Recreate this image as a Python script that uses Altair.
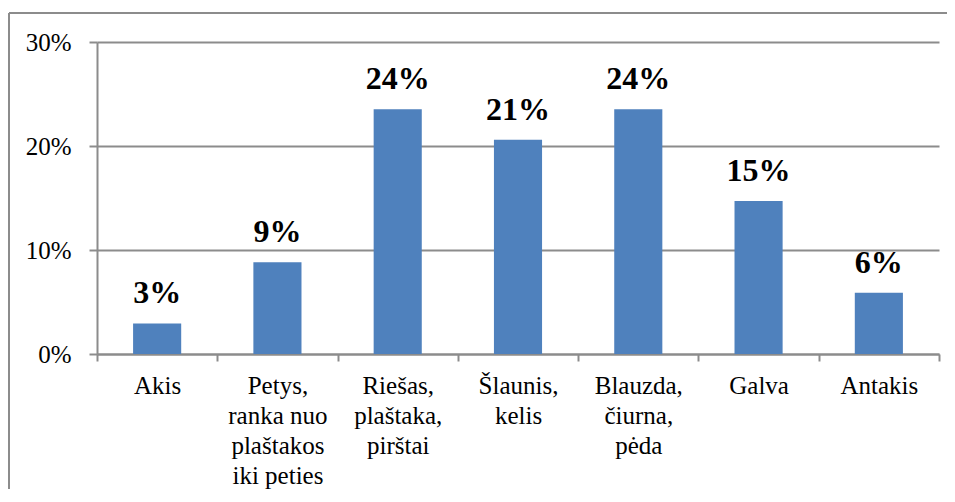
import altair as alt
import pandas as pd

# Data
categories = [
    "Akis",
    "Petys,|ranka nuo|plaštakos|iki peties",
    "Riešas,|plaštaka,|pirštai",
    "Šlaunis,|kelis",
    "Blauzda,|čiurna,|pėda",
    "Galva",
    "Antakis",
]
shares = [0.0294, 0.0882, 0.2353, 0.2059, 0.2353, 0.1471, 0.0588]
y_ticks = [0, 0.1, 0.2, 0.3]

df = pd.DataFrame({"cat": categories, "share": shares})

GRAY = "#8c8c8c"
FONT = "Liberation Serif"

x_enc = alt.X(
    "cat:N",
    sort=categories,
    title=None,
    scale=alt.Scale(paddingInner=0, paddingOuter=0),
    axis=alt.Axis(
        labelAngle=0,
        labelExpr="split(datum.label, '|')",
        labelFont=FONT,
        labelFontSize=25,
        labelLineHeight=30,
        labelPadding=12,
        labelColor="black",
        labelOverlap=False,
        labelLimit=0,
        tickBand="extent",
        tickSize=7,
        tickColor=GRAY,
        tickWidth=2,
        domainColor=GRAY,
        domainWidth=2,
        grid=False,
    ),
)

y_enc = alt.Y(
    "share:Q",
    title=None,
    scale=alt.Scale(domain=[0, 0.3], nice=False),
    axis=alt.Axis(
        values=y_ticks,
        format=".0%",
        grid=True,
        gridColor=GRAY,
        gridWidth=2,
        tickSize=8,
        tickColor=GRAY,
        tickWidth=2,
        domainColor=GRAY,
        domainWidth=2,
        labelFont=FONT,
        labelFontSize=25,
        labelColor="black",
        labelPadding=18,
    ),
)

base = alt.Chart(df)

bars = base.mark_bar(width=alt.RelativeBandSize(0.4), color="#4F81BD").encode(
    x=x_enc, y=y_enc
)

labels = base.mark_text(
    font=FONT, fontSize=32, fontWeight="bold", dy=-20, baseline="alphabetic", color="black"
).encode(
    x=alt.X("cat:N", sort=categories),
    y=alt.Y("share:Q"),
    text=alt.Text("share:Q", format=".0%"),
)

one = pd.DataFrame({"k": [0]})
border_left = alt.Chart(one).mark_rule(color=GRAY, strokeWidth=2).encode(
    x=alt.value(-88), y=alt.value(-29), y2=alt.value(460)
)
border_top = alt.Chart(one).mark_rule(color=GRAY, strokeWidth=2).encode(
    x=alt.value(-88), x2=alt.value(860), y=alt.value(-29)
)

chart = (
    alt.layer(border_left, border_top, bars, labels)
    .properties(
        width=842,
        height=312,
        autosize=alt.AutoSizeParams(type="none"),
        padding={"left": 89, "top": 34, "right": 8, "bottom": 135},
    )
    .configure_view(stroke=None)
)

chart.save("out.html", embed_options={"renderer": "svg", "actions": False})
